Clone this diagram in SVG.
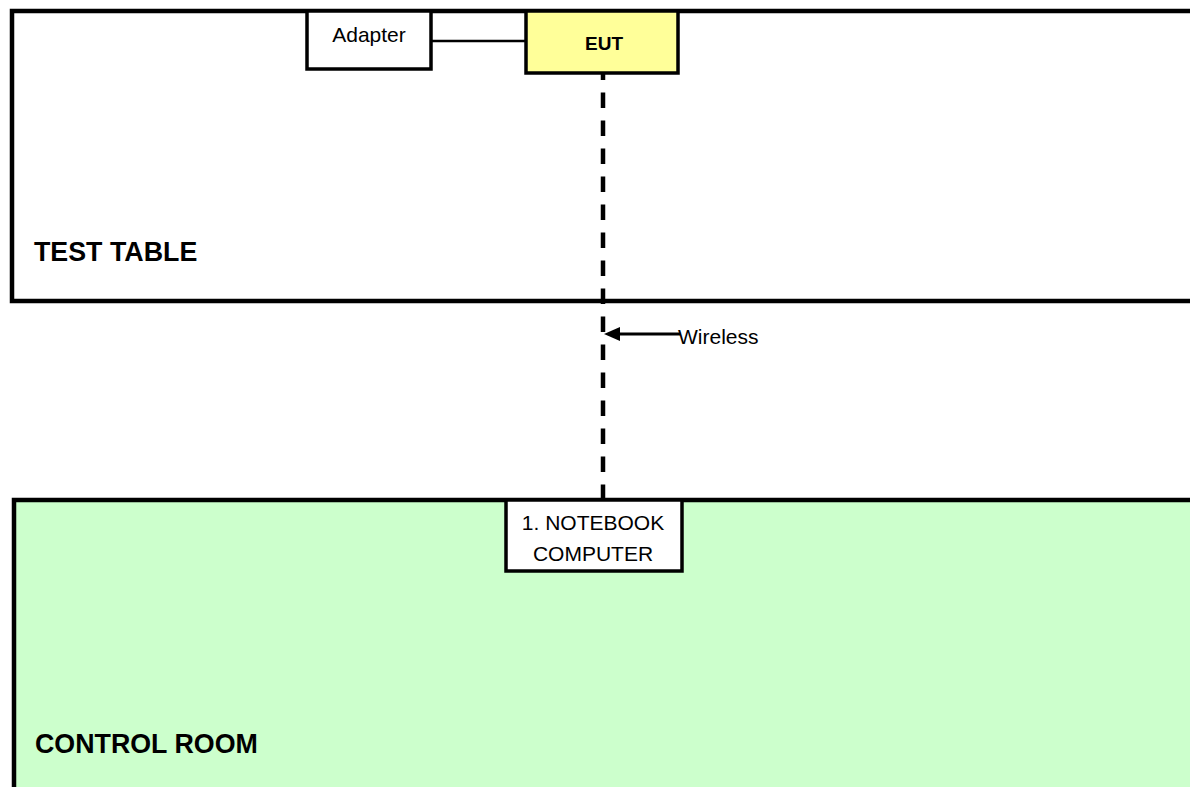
<svg xmlns="http://www.w3.org/2000/svg" width="1190" height="787" viewBox="0 0 1190 787">
<style>
.area{stroke:#000;stroke-width:4.5}
.box{stroke:#000;stroke-width:3.5}
.t{font-family:"Liberation Sans",Arial,sans-serif;font-size:21px;fill:#000}
.b{font-family:"Liberation Sans",Arial,sans-serif;font-weight:bold;fill:#000}
</style>
<rect width="1190" height="787" fill="#fff"/>
<g id="test-table">
<rect class="area" x="12" y="11" width="1200" height="290" fill="#fff"/>
<text class="b" x="34" y="261" font-size="26.8">TEST TABLE</text>
</g>
<g id="control-room">
<rect class="area" x="14" y="500" width="1200" height="320" fill="#CCFFCC"/>
<text class="b" x="35" y="753" font-size="26.8">CONTROL ROOM</text>
</g>
<g id="connectors">
<line x1="431" y1="41" x2="525" y2="41" stroke="#000" stroke-width="2.5"/>
<line x1="603" y1="73" x2="603" y2="500" stroke="#000" stroke-width="4.5" stroke-dasharray="15.5 12.5" stroke-dashoffset="8.5"/>
<line x1="680" y1="334" x2="618" y2="334" stroke="#000" stroke-width="3"/>
<path d="M620,327 L604,334 L620,341 Z" fill="#000"/>
</g>
<g id="adapter">
<rect class="box" x="307" y="11" width="124" height="58" fill="#fff"/>
<text class="t" x="369" y="42" text-anchor="middle">Adapter</text>
</g>
<g id="eut">
<rect class="box" x="526" y="11" width="152" height="62" fill="#FFFF99"/>
<text class="b" x="604" y="50" font-size="19" text-anchor="middle">EUT</text>
</g>
<g id="notebook">
<rect class="box" x="506" y="500" width="176" height="71" fill="#fff"/>
<text class="t" x="593" y="530" text-anchor="middle">1. NOTEBOOK</text>
<text class="t" x="593" y="561" text-anchor="middle">COMPUTER</text>
</g>
<g id="wireless-label">
<text class="t" x="678" y="344">Wireless</text>
</g>
</svg>
